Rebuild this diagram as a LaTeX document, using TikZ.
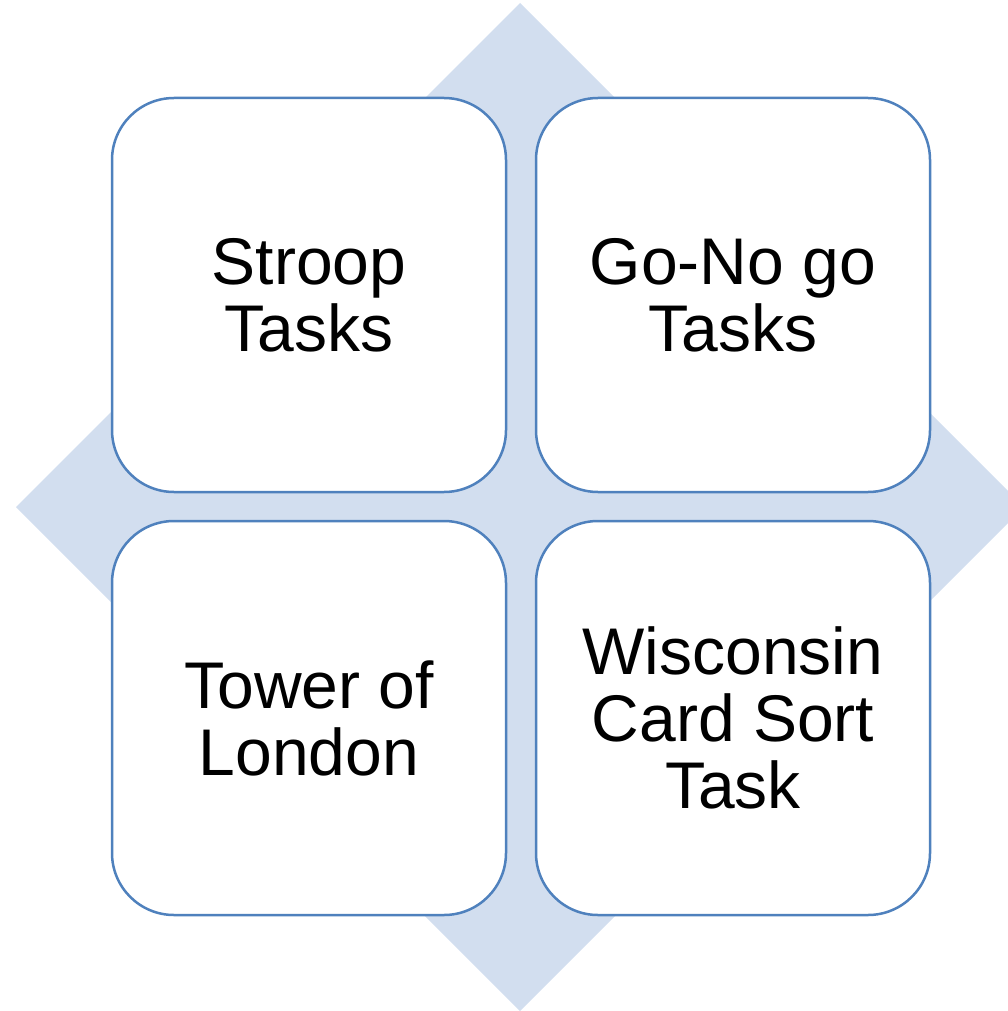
\documentclass[tikz,border=0pt]{standalone}
\usepackage{fontspec}
\setmainfont{Liberation Sans}
\definecolor{diamondfill}{HTML}{D2DEEF}
\definecolor{boxline}{HTML}{4F81BD}
\begin{document}
\begin{tikzpicture}[x=1pt,y=-1pt,
  taskbox/.style={draw=boxline, line width=2.5pt, fill=white, rounded corners=62pt,
    minimum width=394pt, minimum height=394pt, inner sep=0pt, align=center,
    font=\fontsize{66}{67}\selectfont, text=black}]
\useasboundingbox (0,0) rectangle (1008,1011);
\begin{scope}
  \clip (0,0) rectangle (1008,1011);
  \fill[diamondfill] (520,3) -- (1024,507) -- (520,1011) -- (16,507) -- cycle;
\end{scope}
\node[taskbox] (stroop) at (309,295) {Stroop\\Tasks};
\node[taskbox] (gonogo) at (733,295) {Go-No go\\Tasks};
\node[taskbox] (tower) at (309,718) {Tower of\\London};
\node[taskbox] (wcst) at (733,718) {Wisconsin\\Card Sort\\Task};
\end{tikzpicture}
\end{document}
